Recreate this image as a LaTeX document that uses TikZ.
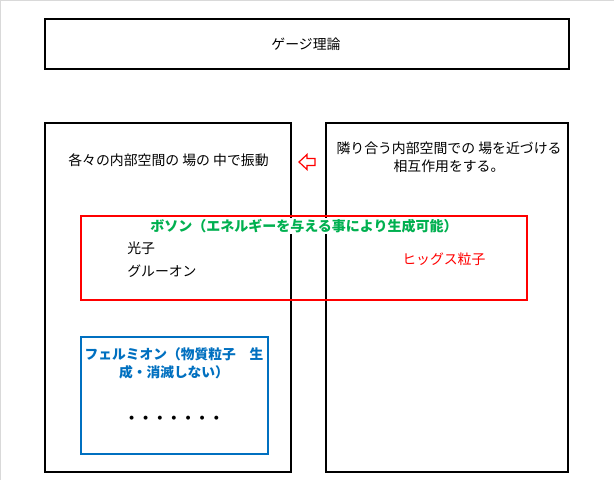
\documentclass[tikz,border=0pt]{standalone}
\usepackage{fontspec}
\setmainfont{Noto Sans CJK JP}
\definecolor{bgreen}{RGB}{0,176,80}
\definecolor{fblue}{RGB}{0,112,192}
\definecolor{edgegray}{RGB}{217,217,217}
\begin{document}
\begin{tikzpicture}[x=0.75pt,y=-0.75pt,
  frame/.style={draw=black,line width=1.5pt,inner sep=0pt,fill=none},
  lbl/.style={inner sep=0pt,font=\fontsize{10.4pt}{13.5pt}\selectfont}]
\useasboundingbox (0,0) rectangle (614,480);
\fill[white] (0,0) rectangle (614,480);
\draw[edgegray,line width=0.75pt] (0,480) -- (0,0.4) -- (614,0.4);
% boxes
\node[frame,minimum width=524*0.75pt,minimum height=50*0.75pt] (gauge) at (307,44) {};
\node[frame,minimum width=246*0.75pt,minimum height=349*0.75pt] (left) at (168,297.5) {};
\node[frame,minimum width=242*0.75pt,minimum height=349*0.75pt] (right) at (447,297.5) {};
% texts
\node[lbl] (title) at (306,44.5) {ゲージ理論};
\node[lbl] (ltext) at (168.5,160) {各々の内部空間の 場の 中で振動};
\node[lbl,align=center] (rtext) at (449,157) {隣り合う内部空間での 場を近づける\\相互作用をする。};
% arrow
\draw[red,line width=0.9pt,fill=white,line join=miter]
  (299,162) -- (307,154.5) -- (307,158.5) -- (315,158.5) -- (315,165.5) -- (307,165.5) -- (307,169.5) -- cycle;
% boson box
\node[lbl,fill=white,inner sep=1pt,text=bgreen,font=\fontsize{10.5pt}{13.5pt}\selectfont\bfseries] (boson) at (304,226) {ボソン（エネルギーを与える事により生成可能）};
\node[draw=red,line width=1.5pt,inner sep=0pt,minimum width=446*0.75pt,minimum height=84*0.75pt] (bosonbox) at (304,258) {};
\node[lbl,anchor=west] (photon) at (127,248) {光子};
\node[lbl,anchor=west] (gluon) at (127,271) {グルーオン};
\node[lbl,anchor=west,text=red] (higgs) at (402,259) {ヒッグス粒子};
% fermion box
\node[draw=fblue,line width=1.5pt,inner sep=0pt,minimum width=187*0.75pt,minimum height=117*0.75pt] (fermibox) at (174.5,395.5) {};
\node[lbl,align=center,text=fblue,font=\fontsize{10.3pt}{13.5pt}\selectfont\bfseries] (fermion) at (174,363) {フェルミオン（物質粒子　生\\成・消滅しない）};
\node[lbl,font=\fontsize{10.6pt}{13.5pt}\selectfont\bfseries] (dots) at (174,420) {・・・・・・・};
\end{tikzpicture}
\end{document}
